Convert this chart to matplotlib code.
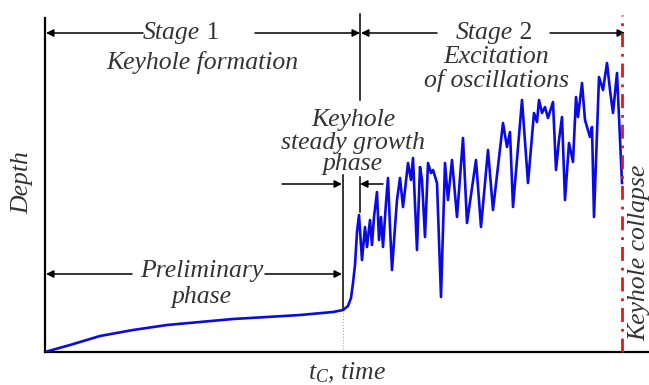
import matplotlib
matplotlib.use("Agg")
import matplotlib.pyplot as plt
from matplotlib import font_manager as fm
from matplotlib.font_manager import FontProperties

FAM = 'Liberation Serif'
plt.rcParams['font.family'] = FAM
plt.rcParams['mathtext.fontset'] = 'custom'
plt.rcParams['mathtext.rm'] = 'Liberation Serif'
plt.rcParams['mathtext.it'] = 'Liberation Serif:italic'

# ---- data (arbitrary units) ----
time = [0, 25, 55, 88, 122, 155, 188, 222, 255, 288, 298, 303, 306, 308, 310, 312, 314,
        317, 320, 322, 325, 327, 329, 332, 334, 336, 338, 341, 343, 345, 347, 350, 352,
        355, 358, 360, 363, 366, 368, 372, 375, 377, 380, 383, 386, 388, 392, 396, 400,
        403, 407, 412, 418, 422, 431, 436, 443, 448, 458, 462, 465, 468, 477, 483, 489,
        492, 494, 497, 500, 503, 508, 511, 514, 517, 520, 524, 528, 531, 533, 537, 540,
        545, 547, 549, 554, 558, 562, 565, 568, 572, 577]
depth = [0, 7, 16, 22, 27, 30, 33, 35, 37, 40, 42, 46, 54, 69, 87, 120, 137,
         92, 125, 105, 132, 107, 135, 160, 112, 135, 105, 149, 174, 125, 82, 125, 152,
         174, 145, 162, 189, 172, 194, 102, 185, 172, 115, 189, 179, 182, 169, 55, 189,
         152, 192, 135, 214, 129, 192, 125, 202, 142, 229, 205, 220, 145, 252, 169, 239,
         230, 252, 239, 245, 234, 250, 182, 212, 235, 152, 209, 190, 255, 235, 269, 232,
         215, 225, 135, 275, 262, 289, 262, 239, 279, 169]

t_stage = 315        # boundary stage 1 / stage 2
t_growth_start = 298  # end of preliminary phase
t_collapse = 577     # keyhole collapse

fs = 18.5
ital_path = None
for f in fm.fontManager.ttflist:
    if f.fname.endswith('LiberationSerif-Italic.ttf'):
        ital_path = f.fname
        break
if ital_path:
    FP_IT = FontProperties(fname=ital_path, size=fs)
else:
    FP_IT = FontProperties(family=FAM, style='italic', size=fs)
FP_RM = FontProperties(family=FAM, size=fs)

fig = plt.figure(figsize=(6.49, 3.85), dpi=100)
ax = fig.add_axes([45/649, 33/385, 1 - 45/649, (352-18)/385])
ax.set_xlim(0, 604)
ax.set_ylim(0, 334)
for s in ['top', 'right']:
    ax.spines[s].set_visible(False)
for s in ['left', 'bottom']:
    ax.spines[s].set_linewidth(1.6)
ax.set_xticks([])
ax.set_yticks([])

ax.plot(time, depth, color='#0a0ae6', lw=1.9, solid_joinstyle='round', zorder=3)

tc = '#333333'
lk = dict(color='black', lw=1.1, clip_on=False)

# vertical guide lines
ax.plot([t_stage, t_stage], [252, 338], **lk)
ax.plot([t_growth_start, t_growth_start], [42, 177], **lk)
ax.plot([t_growth_start, t_growth_start], [0, 42], color='#aaaaaa', lw=0.8, ls=':')
ax.plot([t_stage, t_stage], [140, 175], **lk)
ax.plot([t_collapse, t_collapse], [0, 337], color='#e01818', lw=2.0,
        ls=(0, (5, 2.5, 1, 2.5)), clip_on=False, zorder=4)

ap = dict(arrowstyle='-|>', color='black', lw=1.1, mutation_scale=11,
          shrinkA=0, shrinkB=0)

def arrow(x0, x1, y):
    ax.annotate('', xy=(x1, y), xytext=(x0, y), arrowprops=ap, annotation_clip=False)

# stage arrows (y = 319)
arrow(98, 1, 319)
arrow(210, t_stage, 319)
arrow(392, t_stage + 1, 319)
arrow(505, 580, 319)
# steady growth arrows
arrow(237, t_growth_start - 1, 168)
arrow(338, t_stage, 168)
# preliminary arrows
arrow(87, 1, 78)
arrow(220, t_growth_start - 1, 78)

def txt(x, y, s, **kw):
    ax.text(x, y, s, ha='center', va='center', color=tc, fontproperties=FP_IT, **kw)

ax.text(155, 319, 'Stage', ha='right', va='center', color=tc, fontproperties=FP_IT)
ax.text(155, 319, ' 1', ha='left', va='center', color=tc, fontproperties=FP_RM)
txt(157, 290, 'Keyhole formation')
ax.text(468, 319, 'Stage', ha='right', va='center', color=tc, fontproperties=FP_IT)
ax.text(468, 319, ' 2', ha='left', va='center', color=tc, fontproperties=FP_RM)
txt(451, 295, 'Excitation')
txt(451, 272, 'of oscillations')
txt(308, 232, 'Keyhole')
txt(308, 209, 'steady growth')
txt(308, 188, 'phase')
txt(157, 81, 'Preliminary', bbox=dict(fc='white', ec='none', pad=0.5))
txt(157, 55, 'phase')

ax.text(594, 99, 'Keyhole collapse', rotation=90, ha='center', va='center',
        color=tc, fontproperties=FP_IT, clip_on=False)
fig.text(22/649, 1 - 183/385, 'Depth', rotation=90, ha='center', va='center',
         color=tc, fontproperties=FP_IT)
fig.text(347/649, 1 - 373/385, r'$t_C$, time', ha='center', va='center',
         color=tc, fontproperties=FP_IT)

fig.savefig('out.png', dpi=100)
